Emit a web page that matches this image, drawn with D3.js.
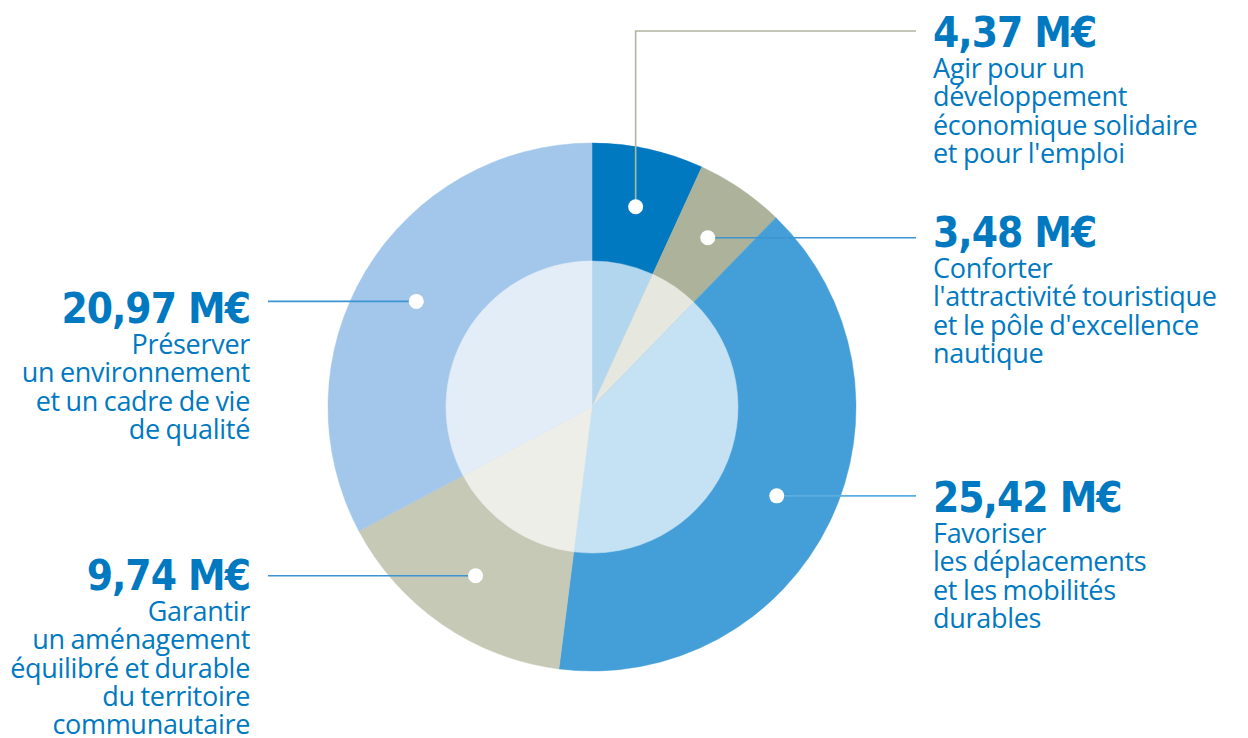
<!DOCTYPE html>
<html><head><meta charset="utf-8">
<script src="https://cdn.jsdelivr.net/npm/d3@7"></script>
<style>
body{margin:0;background:#fff;}
svg{display:block;}
.val{font-family:"DejaVu Sans Condensed","DejaVu Sans";font-weight:bold;fill:#0079c1;}
.desc{font-family:"Open Sans";fill:#0079c1;}
</style></head>
<body>
<svg id="c" width="1248" height="738"></svg>
<script>
const categories = ["Agir pour un\ndéveloppement\néconomique solidaire\net pour l'emploi",
  "Conforter\nl'attractivité touristique\net le pôle d'excellence\nnautique",
  "Favoriser\nles déplacements\net les mobilités\ndurables",
  "Garantir\nun aménagement\néquilibré et durable\ndu territoire\ncommunautaire",
  "Préserver\nun environnement\net un cadre de vie\nde qualité"];
const values = [4.37, 3.48, 25.42, 9.74, 20.97];
const valueLabels = ["4,37 M€", "3,48 M€", "25,42 M€", "9,74 M€", "20,97 M€"];
const outerColors = ["#0079c1", "#adb39a", "#449fd8", "#c7c9b7", "#a3c7eb"];
const innerColors = ["#b2d6ed", "#e6e7df", "#c5e1f4", "#edeee8", "#e3edf8"];
const lineColors = ["#b0b5a0", "#3d94d2", "#5aaee0", "#3d94d2", "#3d94d2"];
const side = ["right", "right", "right", "left", "left"];
const labelY = [47, 247, 512, 590, 323];

const svg = d3.select("#c");
const cx = 592, cy = 407, R = 264, r = 146;
const g = svg.append("g").attr("transform", `translate(${cx},${cy})`);
const pie = d3.pie().sort(null).value(d => d)(values);
const arcOuter = d3.arc().innerRadius(0).outerRadius(R);
const arcInner = d3.arc().innerRadius(0).outerRadius(r);
const arcMid = d3.arc().innerRadius(r).outerRadius(R);

g.selectAll("path.o").data(pie).join("path").attr("class","o")
  .attr("d", arcOuter).attr("fill", (d,i) => outerColors[i])
  .attr("stroke", (d,i)=>outerColors[i]).attr("stroke-width",0.5);
g.selectAll("path.i").data(pie).join("path").attr("class","i")
  .attr("d", arcInner).attr("fill", (d,i) => innerColors[i])
  .attr("stroke", (d,i)=>innerColors[i]).attr("stroke-width",0.5);

const xRightLine = 916, xLeftLine = 268, xRightText = 933, xLeftText = 250;
const topLineY = 31;

pie.forEach((d,i) => {
  const [px, py] = arcMid.centroid(d);
  const ax = cx + px, ay = cy + py;
  let pts;
  if (i === 0) pts = [[ax, ay], [ax, topLineY], [xRightLine, topLineY]];
  else pts = [[ax, ay], [side[i]==="right" ? xRightLine : xLeftLine, ay]];
  svg.append("path").attr("d", d3.line()(pts)).attr("fill","none")
    .attr("stroke", lineColors[i]).attr("stroke-width", 1.6);
  svg.append("circle").attr("cx", ax).attr("cy", ay).attr("r", 7.5).attr("fill", "#fff");

  const right = side[i] === "right";
  const tx = right ? xRightText : xLeftText;
  const anchor = right ? "start" : "end";
  svg.append("text").attr("class","val").attr("x", tx).attr("y", labelY[i])
    .attr("text-anchor", anchor).attr("font-size", 42).attr("letter-spacing", -1)
    .text(valueLabels[i]);
  const lines = categories[i].split("\n");
  const t = svg.append("text").attr("class","desc").attr("text-anchor", anchor)
    .attr("font-size", 27).attr("letter-spacing", -0.3).attr("word-spacing", -1);
  lines.forEach((ln, k) => {
    t.append("tspan").attr("x", tx).attr("y", labelY[i] + 31 + k*28.3).text(ln);
  });
});
</script>
</body></html>
